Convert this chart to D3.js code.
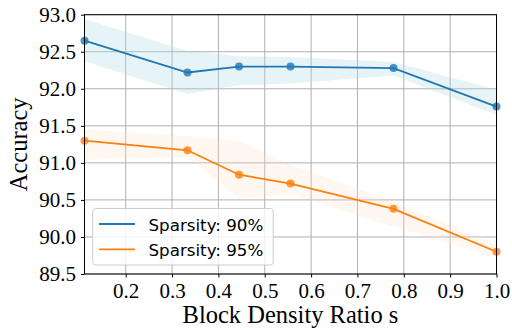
<!DOCTYPE html>
<html>
<head>
<meta charset="utf-8">
<script src="https://cdn.jsdelivr.net/npm/d3@7"></script>
<style>
body{margin:0;background:#fff}
svg{display:block}
.tick text{font-family:"Liberation Serif","Times New Roman",serif;font-size:21px;fill:#000}
</style>
</head>
<body>
<div id="chart"></div>
<script>
// block density ratios
var ratios=[1/9,3/9,4/9,5/9,7/9,1.0]
var acc90=[92.65,92.22,92.30,92.30,92.28,91.76]
var acc90Lo=[92.37,91.93,92.05,92.07,92.18,91.65]
var acc90Hi=[92.94,92.51,92.44,92.43,92.36,91.99]
var acc95=[91.30,91.17,90.84,90.72,90.38,89.80]
var acc95Lo=[91.05,91.08,90.52,90.58,90.14,89.73]
var acc95Hi=[91.45,91.36,91.30,90.97,90.48,89.89]
var xTicks=[0.2,0.3,0.4,0.5,0.6,0.7,0.8,0.9,1.0]
var yTicks=[89.5,90.0,90.5,91.0,91.5,92.0,92.5,93.0]

var width=512, height=330
var margin={left:84.5,right:15.5,top:14.7,bottom:56}

var svg=d3.select("#chart").append("svg").attr("width",width).attr("height",height)

var x=d3.scaleLinear().domain([1/9,1.0]).range([margin.left,width-margin.right])
var y=d3.scaleLinear().domain([89.5,93.0]).range([height-margin.bottom,margin.top])

// grid
svg.append("g").selectAll("line").data(xTicks).enter().append("line")
	.attr("x1",function(d){return x(d)}).attr("x2",function(d){return x(d)})
	.attr("y1",y(89.5)).attr("y2",y(93.0))
	.attr("stroke","#b0b0b0").attr("stroke-width",1)
svg.append("g").selectAll("line").data(yTicks).enter().append("line")
	.attr("y1",function(d){return y(d)}).attr("y2",function(d){return y(d)})
	.attr("x1",x(1/9)).attr("x2",x(1.0))
	.attr("stroke","#b0b0b0").attr("stroke-width",1)

function band(lo,hi){
	return d3.area()
		.x(function(d,i){return x(ratios[i])})
		.y0(function(d,i){return y(lo[i])})
		.y1(function(d,i){return y(hi[i])})(ratios)
}
svg.append("path").attr("d",band(acc90Lo,acc90Hi)).attr("fill","#add8e6").attr("fill-opacity",0.3)
svg.append("path").attr("d",band(acc95Lo,acc95Hi)).attr("fill","#ffdab9").attr("fill-opacity",0.22)

var series=[
	{name:"Sparsity: 90%",vals:acc90,color:"#1f77b4"},
	{name:"Sparsity: 95%",vals:acc95,color:"#ff7f0e"}
]
series.forEach(function(s){
	var line=d3.line().x(function(d,i){return x(ratios[i])}).y(function(d){return y(d)})
	svg.append("path").attr("d",line(s.vals)).attr("fill","none")
		.attr("stroke",s.color).attr("stroke-width",1.8)
	svg.append("g").selectAll("circle").data(s.vals).enter().append("circle")
		.attr("cx",function(d,i){return x(ratios[i])})
		.attr("cy",function(d){return y(d)})
		.attr("r",4).attr("fill",s.color).attr("fill-opacity",0.8)
})

// frame
svg.append("rect").attr("x",x(1/9)).attr("y",y(93.0))
	.attr("width",x(1.0)-x(1/9)).attr("height",y(89.5)-y(93.0))
	.attr("fill","none").attr("stroke","#000").attr("stroke-width",1)

var xAxis=svg.append("g").attr("transform","translate(0,"+y(89.5)+")")
	.call(d3.axisBottom(x).tickValues(xTicks).tickFormat(d3.format(".1f")).tickSize(3.5).tickPadding(6))
var yAxis=svg.append("g").attr("transform","translate("+x(1/9)+",0)")
	.call(d3.axisLeft(y).tickValues(yTicks).tickFormat(d3.format(".1f")).tickSize(3.5).tickPadding(5))
xAxis.select(".domain").remove()
yAxis.select(".domain").remove()
svg.selectAll(".tick line").attr("stroke","#000")

svg.append("text").attr("x",x(0.5555)).attr("y",323)
	.attr("text-anchor","middle")
	.style("font-family","Liberation Serif, Times New Roman, serif").style("font-size","24.5px")
	.text("Block Density Ratio s")
svg.append("text").attr("transform","translate(27,"+y(91.25)+") rotate(-90)")
	.attr("text-anchor","middle")
	.style("font-family","Liberation Serif, Times New Roman, serif").style("font-size","24.5px")
	.text("Accuracy")

// legend
var lg=svg.append("g")
lg.append("rect").attr("x",92.7).attr("y",208.5).attr("width",180.5).attr("height",56.5)
	.attr("rx",3).attr("fill","#fff").attr("fill-opacity",0.8).attr("stroke","#ccc")
series.forEach(function(s,i){
	var ly=224+i*25.3
	lg.append("line").attr("x1",99).attr("x2",135).attr("y1",ly).attr("y2",ly)
		.attr("stroke",s.color).attr("stroke-width",1.8)
	lg.append("text").attr("x",148.5).attr("y",ly+6.5)
		.style("font-family","DejaVu Sans, sans-serif").style("font-size","16.7px")
		.text(s.name)
})
</script>
</body>
</html>
